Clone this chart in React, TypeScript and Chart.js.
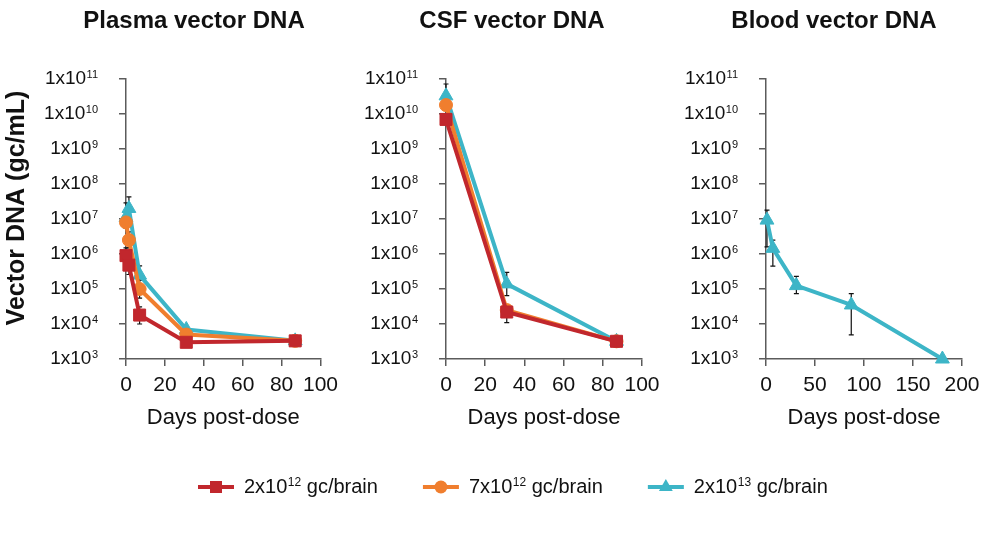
import { useEffect, useRef } from 'react';
import { Chart, registerables } from 'chart.js';

Chart.register(...registerables);

const FONT = '"Liberation Sans", Arial, Helvetica, sans-serif';
const INK = '#111111';
const AXIS = '#5b5b5b';

// Dose groups (legend text is base + superscript exponent + unit)
const doseBase = ['2x10', '7x10', '2x10'];
const doseExp = ['12', '12', '13'];
const doseUnit = 'gc/brain';
const doseColor = ['#C1272D', '#F07E2E', '#3DB5C7'];
const doseMarker = ['rect', 'circle', 'triangle'];
const doseMarkerRadius = [8.5, 6.5, 8];

// Decade ticks on the log axis
const yTicks = [1e3, 1e4, 1e5, 1e6, 1e7, 1e8, 1e9, 1e10, 1e11];

// Plasma vector DNA (gc/mL)
const plasmaDays = [0, 1.5, 7, 31, 87];
const plasmaLo = [9.0e5, 4.8e5, 1.8e4, 3.0e3, 3.3e3];
const plasmaLoUpper = [1.5e6, 9.0e5, 3.1e4, null, null];
const plasmaLoLower = [6.0e5, 2.6e5, 1.0e4, null, null];
const plasmaMid = [8.0e6, 2.5e6, 1.0e5, 5.0e3, 3.3e3];
const plasmaMidUpper = [1.2e7, 4.3e6, 1.8e5, null, null];
const plasmaMidLower = [5.5e6, 1.5e6, 5.5e4, null, null];
const plasmaHi = [1.1e7, 2.0e7, 2.5e5, 7.0e3, 3.3e3];
const plasmaHiUpper = [2.9e7, 4.3e7, 4.6e5, null, null];
const plasmaHiLower = [6.0e6, 1.1e7, 1.3e5, null, null];

// CSF vector DNA (gc/mL)
const csfDays = [0, 31, 87];
const csfLo = [7.0e9, 2.2e4, 3.2e3];
const csfLoUpper = [null, 3.4e4, 4.2e3];
const csfLoLower = [null, 1.1e4, 2.2e3];
const csfMid = [1.8e10, 2.5e4, 3.2e3];
const csfMidUpper = [null, null, null];
const csfMidLower = [null, null, null];
const csfHi = [3.3e10, 1.4e5, 3.2e3];
const csfHiUpper = [7.2e10, 3.0e5, null];
const csfHiLower = [1.5e10, 6.5e4, null];

// Blood vector DNA (gc/mL), high dose only
const bloodDays = [1, 7, 31, 87, 180];
const bloodHi = [9.3e6, 1.45e6, 1.25e5, 3.5e4, 1.0e3];
const bloodHiUpper = [1.8e7, 2.5e6, 2.3e5, 7.4e4, null];
const bloodHiLower = [1.6e6, 4.5e5, 7.4e4, 4.9e3, null];

const PLOT_TOP = 79;
const PLOT_BOTTOM = 359;
const CANVAS_H = 446;

type Series = {
  dose: number;
  values: number[];
  upper: (number | null)[];
  lower: (number | null)[];
};

type PanelSpec = {
  title: string;
  titleX: number;
  left: number;
  width: number;
  plotLeft: number;
  plotRight: number;
  xMax: number;
  xStep: number;
  yTitle: boolean;
  days: number[];
  series: Series[];
};

const panels: PanelSpec[] = [
  {
    title: 'Plasma vector DNA',
    titleX: 194,
    left: 0,
    width: 345,
    plotLeft: 126,
    plotRight: 322,
    xMax: 100,
    xStep: 20,
    yTitle: true,
    days: plasmaDays,
    series: [
      { dose: 0, values: plasmaLo, upper: plasmaLoUpper, lower: plasmaLoLower },
      { dose: 1, values: plasmaMid, upper: plasmaMidUpper, lower: plasmaMidLower },
      { dose: 2, values: plasmaHi, upper: plasmaHiUpper, lower: plasmaHiLower },
    ],
  },
  {
    title: 'CSF vector DNA',
    titleX: 512,
    left: 345,
    width: 325,
    plotLeft: 446,
    plotRight: 642,
    xMax: 100,
    xStep: 20,
    yTitle: false,
    days: csfDays,
    series: [
      { dose: 0, values: csfLo, upper: csfLoUpper, lower: csfLoLower },
      { dose: 1, values: csfMid, upper: csfMidUpper, lower: csfMidLower },
      { dose: 2, values: csfHi, upper: csfHiUpper, lower: csfHiLower },
    ],
  },
  {
    title: 'Blood vector DNA',
    titleX: 834,
    left: 670,
    width: 330,
    plotLeft: 766,
    plotRight: 962,
    xMax: 200,
    xStep: 50,
    yTitle: false,
    days: bloodDays,
    series: [{ dose: 2, values: bloodHi, upper: bloodHiUpper, lower: bloodHiLower }],
  },
];

// Vertical error bars with caps, drawn beneath the lines and markers
const errorBarsPlugin = {
  id: 'errorBars',
  beforeDatasetsDraw(chart: any) {
    const { ctx, scales } = chart;
    const x = scales.x;
    const y = scales.y;
    ctx.save();
    ctx.strokeStyle = INK;
    ctx.lineWidth = 1.2;
    chart.data.datasets.forEach((ds: any) => {
      ds.data.forEach((pt: any, i: number) => {
        const hi = ds.errUpper ? ds.errUpper[i] : null;
        const lo = ds.errLower ? ds.errLower[i] : null;
        if (hi == null && lo == null) return;
        const px = x.getPixelForValue(pt.x);
        const top = y.getPixelForValue(hi ?? pt.y);
        const bot = y.getPixelForValue(lo ?? pt.y);
        ctx.beginPath();
        ctx.moveTo(px, top);
        ctx.lineTo(px, bot);
        if (hi != null) {
          ctx.moveTo(px - 2.5, top);
          ctx.lineTo(px + 2.5, top);
        }
        if (lo != null) {
          ctx.moveTo(px - 2.5, bot);
          ctx.lineTo(px + 2.5, bot);
        }
        ctx.stroke();
      });
    });
    ctx.restore();
  },
};

// Panel title, axis titles and the 1x10^n tick labels
const panelTextPlugin = {
  id: 'panelText',
  afterDraw(chart: any, _args: any, opts: any) {
    const { ctx, chartArea, scales } = chart;
    ctx.save();
    ctx.fillStyle = INK;

    ctx.font = `bold 24px ${FONT}`;
    ctx.textAlign = 'center';
    ctx.textBaseline = 'alphabetic';
    ctx.fillText(opts.title, opts.titleX, 27.5);

    ctx.font = `22px ${FONT}`;
    ctx.fillText('Days post-dose', (chartArea.left + chartArea.right) / 2, 424);

    const y = scales.y;
    const right = chartArea.left - 28;
    y.ticks.forEach((t: any) => {
      const py = y.getPixelForValue(t.value);
      const exp = String(Math.round(Math.log10(t.value)));
      ctx.font = `11px ${FONT}`;
      const supW = ctx.measureText(exp).width;
      ctx.font = `19px ${FONT}`;
      const baseW = ctx.measureText('1x10').width;
      ctx.textAlign = 'left';
      ctx.textBaseline = 'middle';
      ctx.fillText('1x10', right - supW - baseW - 0.5, py);
      ctx.font = `11px ${FONT}`;
      ctx.textBaseline = 'alphabetic';
      ctx.fillText(exp, right - supW, py - 1);
    });

    if (opts.yTitle) {
      ctx.translate(17, 208);
      ctx.rotate(-Math.PI / 2);
      ctx.font = `bold 25px ${FONT}`;
      ctx.textAlign = 'center';
      ctx.textBaseline = 'middle';
      ctx.fillText('Vector DNA (gc/mL)', 0, 0);
    }
    ctx.restore();
  },
};

function Panel({ spec }: { spec: PanelSpec }) {
  const ref = useRef<HTMLCanvasElement>(null);
  useEffect(() => {
    const datasets = spec.series.map((s) => ({
      label: `${doseBase[s.dose]}${doseExp[s.dose]} ${doseUnit}`,
      data: spec.days.map((d, i) => ({ x: d, y: s.values[i] })),
      errUpper: s.upper,
      errLower: s.lower,
      borderColor: doseColor[s.dose],
      backgroundColor: doseColor[s.dose],
      borderWidth: 4,
      borderJoinStyle: 'round' as const,
      pointStyle: doseMarker[s.dose],
      pointRadius: doseMarkerRadius[s.dose],
      pointBorderWidth: 1,
      pointBorderColor: doseColor[s.dose],
      pointBackgroundColor: doseColor[s.dose],
      tension: 0,
      clip: false as any,
    }));
    const chart = new Chart(ref.current as HTMLCanvasElement, {
      type: 'line',
      data: { datasets } as any,
      plugins: [errorBarsPlugin, panelTextPlugin],
      options: {
        responsive: false,
        animation: false,
        events: [],
        layout: {
          padding: {
            left: 0,
            top: PLOT_TOP,
            right: spec.left + spec.width - spec.plotRight,
            bottom: 0,
          },
        },
        plugins: {
          legend: { display: false },
          tooltip: { enabled: false },
          panelText: { title: spec.title, titleX: spec.titleX - spec.left, yTitle: spec.yTitle },
        } as any,
        scales: {
          x: {
            type: 'linear',
            min: 0,
            max: spec.xMax,
            afterFit: (s: any) => {
              s.height = CANVAS_H - PLOT_BOTTOM;
            },
            ticks: {
              stepSize: spec.xStep,
              color: INK,
              font: { family: FONT, size: 21 },
              padding: 7,
              maxRotation: 0,
              autoSkip: false,
            },
            grid: { drawOnChartArea: false, tickLength: 7, color: AXIS, lineWidth: 1.5 },
            border: { color: AXIS, width: 1.5 },
          },
          y: {
            type: 'logarithmic',
            min: 1e3,
            max: 1e11,
            afterBuildTicks: (s: any) => {
              s.ticks = yTicks.map((value) => ({ value }));
            },
            afterFit: (s: any) => {
              s.width = spec.plotLeft - spec.left;
            },
            ticks: { display: false },
            grid: { drawOnChartArea: false, tickLength: 7, color: AXIS, lineWidth: 1.5 },
            border: { color: AXIS, width: 1.5 },
          },
        } as any,
      },
    });
    return () => chart.destroy();
  }, [spec]);
  return (
    <canvas
      ref={ref}
      width={spec.width}
      height={CANVAS_H}
      style={{ position: 'absolute', left: spec.left, top: 0, width: spec.width, height: CANVAS_H }}
    />
  );
}

const LEGEND_TOP = 446;
const LEGEND_H = 100;

function drawMarker(ctx: CanvasRenderingContext2D, style: string, r: number, x: number, y: number) {
  ctx.beginPath();
  if (style === 'rect') {
    const h = r * Math.SQRT1_2;
    ctx.rect(x - h, y - h, 2 * h, 2 * h);
  } else if (style === 'circle') {
    ctx.arc(x, y, r, 0, Math.PI * 2);
  } else {
    ctx.moveTo(x, y - r);
    ctx.lineTo(x + r * Math.sin(Math.PI / 3), y + r * 0.5);
    ctx.lineTo(x - r * Math.sin(Math.PI / 3), y + r * 0.5);
    ctx.closePath();
  }
  ctx.fill();
}

// Legend row: line with marker, then "base^exp unit"
const legendPlugin = {
  id: 'doseLegend',
  afterDraw(chart: any, _args: any, opts: any) {
    const { ctx } = chart;
    const y = opts.y;
    let cursor = opts.x;
    ctx.save();
    chart.data.datasets.forEach((ds: any) => {
      ctx.strokeStyle = ds.borderColor;
      ctx.fillStyle = ds.borderColor;
      ctx.lineWidth = 4;
      ctx.beginPath();
      ctx.moveTo(cursor, y);
      ctx.lineTo(cursor + 36, y);
      ctx.stroke();
      drawMarker(ctx, ds.pointStyle, ds.pointRadius, cursor + 18, y);

      let tx = cursor + 46;
      ctx.fillStyle = INK;
      ctx.textAlign = 'left';
      ctx.textBaseline = 'middle';
      ctx.font = `20px ${FONT}`;
      ctx.fillText(ds.base, tx, y);
      tx += ctx.measureText(ds.base).width + 0.5;
      ctx.font = `12px ${FONT}`;
      ctx.textBaseline = 'alphabetic';
      ctx.fillText(ds.exp, tx, y - 1);
      tx += ctx.measureText(ds.exp).width;
      ctx.font = `20px ${FONT}`;
      ctx.textBaseline = 'middle';
      const unit = ' ' + ds.unit;
      ctx.fillText(unit, tx, y);
      tx += ctx.measureText(unit).width;
      cursor = tx + 45;
    });
    ctx.restore();
  },
};

function Legend() {
  const ref = useRef<HTMLCanvasElement>(null);
  useEffect(() => {
    const datasets = doseBase.map((base, i) => ({
      label: `${base}${doseExp[i]} ${doseUnit}`,
      base,
      exp: doseExp[i],
      unit: doseUnit,
      data: [],
      borderColor: doseColor[i],
      backgroundColor: doseColor[i],
      pointStyle: doseMarker[i],
      pointRadius: doseMarkerRadius[i],
    }));
    const chart = new Chart(ref.current as HTMLCanvasElement, {
      type: 'line',
      data: { datasets } as any,
      plugins: [legendPlugin],
      options: {
        responsive: false,
        animation: false,
        events: [],
        scales: { x: { display: false }, y: { display: false } },
        plugins: {
          legend: { display: false },
          tooltip: { enabled: false },
          doseLegend: { x: 198, y: 487 - LEGEND_TOP },
        } as any,
      },
    });
    return () => chart.destroy();
  }, []);
  return (
    <canvas
      ref={ref}
      width={1000}
      height={LEGEND_H}
      style={{ position: 'absolute', left: 0, top: LEGEND_TOP, width: 1000, height: LEGEND_H }}
    />
  );
}

export default function App() {
  return (
    <div
      style={{
        position: 'absolute',
        left: 0,
        top: 0,
        width: 1000,
        height: 546,
        background: '#ffffff',
        overflow: 'hidden',
      }}
    >
      {panels.map((p) => (
        <Panel key={p.title} spec={p} />
      ))}
      <Legend />
    </div>
  );
}
